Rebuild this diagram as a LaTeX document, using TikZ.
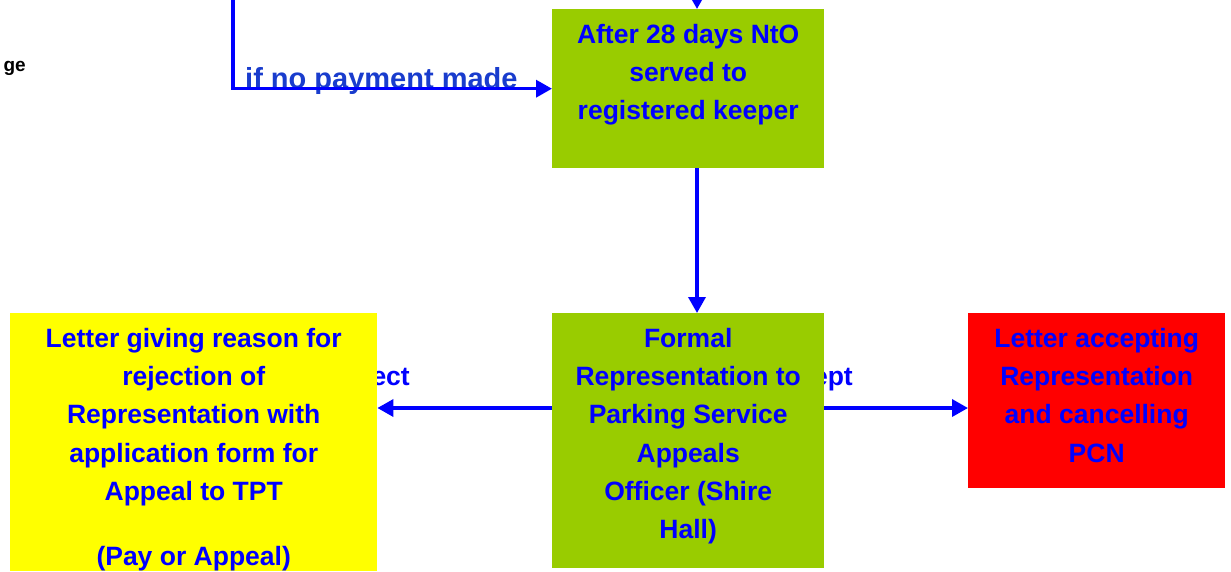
\documentclass[tikz,border=0pt]{standalone}
\usepackage{fontspec}
\setmainfont{Liberation Sans}
\usetikzlibrary{arrows.meta}
\definecolor{boxgreen}{HTML}{99CC00}
\definecolor{boxyellow}{HTML}{FFFF00}
\definecolor{boxred}{HTML}{FF0000}
\definecolor{lblblue}{RGB}{25,60,205}
\begin{document}
\begin{tikzpicture}[x=1pt,y=-1pt,
  arr/.style={draw=blue, line width=3.5pt, -{Triangle[length=16pt,width=17pt]}},
  box/.style={anchor=north west, inner sep=0pt, text=blue, font=\bfseries\fontsize{26.5}{38.3}\selectfont},
  lbl/.style={text=blue, font=\bfseries\fontsize{26.5}{30}\selectfont, inner sep=0pt, anchor=base east}]
\useasboundingbox (0,0) rectangle (1231,571);

% labels partly hidden behind boxes
\node[lbl] (rejlbl) at (410,385) {Reject};
\node[lbl] (acclbl) at (853,385) {Accept};
\node[lbl, anchor=base west, text=lblblue, font=\bfseries\fontsize{29}{32}\selectfont] (nopay) at (245,88) {if no payment made};
\node[anchor=base east, inner sep=0pt, font=\bfseries\fontsize{19}{22}\selectfont] (ge) at (26,71) {ge};

% boxes
\node[box, fill=boxgreen] (nto) at (552,9)
  {\parbox[t][159pt][t]{272pt}{\centering\rule{0pt}{34pt}After 28 days NtO\\ served to\\ registered keeper}};
\node[box, fill=boxgreen] (form) at (552,313)
  {\parbox[t][255pt][t]{272pt}{\centering\rule{0pt}{34pt}Formal\\ Representation to\\ Parking Service\\ Appeals\\ Officer (Shire\\ Hall)}};
\node[box, fill=boxyellow] (rej) at (10,313)
  {\parbox[t][258pt][t]{367pt}{\centering\rule{0pt}{34pt}Letter giving reason for\\ rejection of\\ Representation with\\ application form for\\ Appeal to TPT\\[26.5pt] (Pay or Appeal)}};
\node[box, fill=boxred] (acc) at (968,313)
  {\parbox[t][175pt][t]{257pt}{\centering\rule{0pt}{34pt}Letter accepting\\ Representation\\ and cancelling\\ PCN}};

% connectors
\coordinate (topin) at (697,-12);
\draw[arr] (topin) -- (nto.north -| topin);
\coordinate (lstart) at (233,-5);
\draw[arr] (lstart) |- (nto.west);
\coordinate (midx) at (697,0);
\draw[arr] (nto.south -| midx) -- (form.north -| midx);
\coordinate (midy) at (0,408);
\draw[arr] (form.west |- midy) -- (rej.east |- midy);
\draw[arr] (form.east |- midy) -- (acc.west |- midy);
\end{tikzpicture}
\end{document}
